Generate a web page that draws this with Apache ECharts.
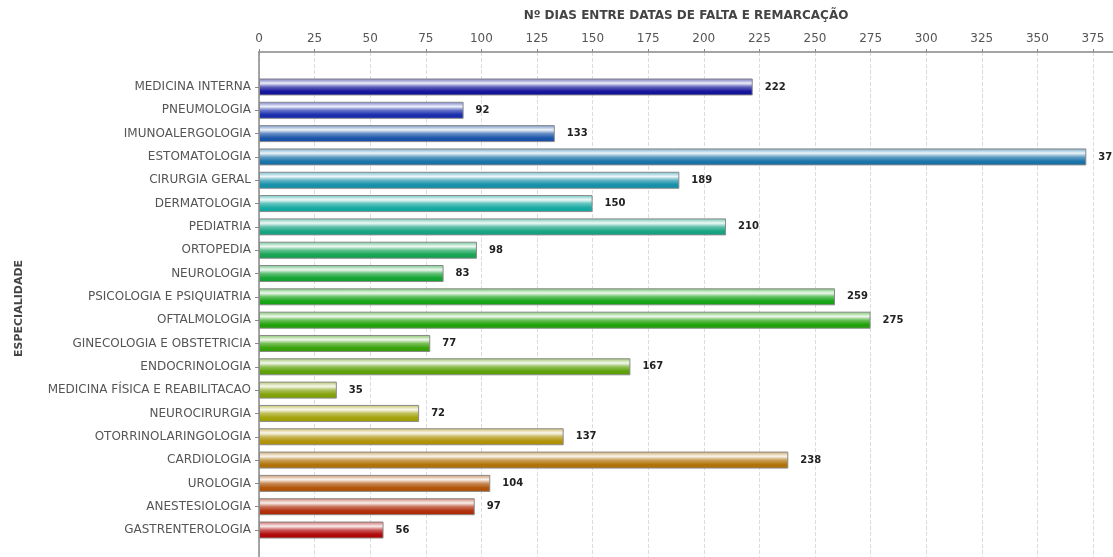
<!DOCTYPE html>
<html>
<head>
<meta charset="utf-8">
<script src="https://cdn.jsdelivr.net/npm/echarts@6/dist/echarts.min.js"></script>
<style>html,body{margin:0;padding:0;background:#fff;overflow:hidden}#c{width:1113px;height:572px}</style>
</head>
<body>
<div id="c"></div>
<script>
const categories = ['MEDICINA INTERNA','PNEUMOLOGIA','IMUNOALERGOLOGIA','ESTOMATOLOGIA','CIRURGIA GERAL','DERMATOLOGIA','PEDIATRIA','ORTOPEDIA','NEUROLOGIA','PSICOLOGIA E PSIQUIATRIA','OFTALMOLOGIA','GINECOLOGIA E OBSTETRICIA','ENDOCRINOLOGIA','MEDICINA FÍSICA E REABILITACAO','NEUROCIRURGIA','OTORRINOLARINGOLOGIA','CARDIOLOGIA','UROLOGIA','ANESTESIOLOGIA','GASTRENTEROLOGIA'];
const values = [222,92,133,372,189,150,210,98,83,259,275,77,167,35,72,137,238,104,97,56];
const barColors = ['#0c0c98','#1226aa','#124ea6','#126ea6','#0e8ca6','#0ea69e','#0ea07e','#0ea04e','#0ea02e','#0ea00e','#1a9e00','#329e00','#589e00','#7e9e00','#9e9e00','#ae8e00','#ae6e00','#ae4e00','#ae2600','#ae0000'];
const xTitle = 'Nº DIAS ENTRE DATAS DE FALTA E REMARCAÇÃO';
const yTitle = 'ESPECIALIDADE';

function mix(hex, t){
  const r=parseInt(hex.slice(1,3),16),g=parseInt(hex.slice(3,5),16),b=parseInt(hex.slice(5,7),16);
  const f=v=>Math.round(v+(255-v)*t);
  return 'rgb('+f(r)+','+f(g)+','+f(b)+')';
}
function grad(c){
  return new echarts.graphic.LinearGradient(0,0,0,1,[
    {offset:0,color:mix(c,0.4)},
    {offset:0.28,color:mix(c,0.93)},
    {offset:0.5,color:mix(c,0.35)},
    {offset:0.75,color:mix(c,0.05)},
    {offset:1,color:c}
  ]);
}
const yCats = [''].concat(categories.slice().reverse()).concat(['']);
const revVals = values.slice().reverse();
const revCols = barColors.slice().reverse();
const data = [null].concat(revVals.map((v,i)=>({value:v,itemStyle:{color:grad(revCols[i])}}))).concat([null]);

const chart = echarts.init(document.getElementById('c'),null,{renderer:'canvas'});
chart.setOption({
  animation:false,
  textStyle:{fontFamily:'DejaVu Sans'},
  grid:{left:259,right:0,top:52,height:513,containLabel:false},
  xAxis:{
    type:'value',position:'top',min:0,max:384,interval:25,
    name:xTitle,nameLocation:'middle',nameGap:30,
    nameTextStyle:{fontWeight:'bold',fontSize:12,color:'#444'},
    axisLine:{show:true,lineStyle:{color:'#888',width:1.5}},
    axisTick:{show:true,length:3,lineStyle:{color:'#888'}},
    axisLabel:{fontSize:12,color:'#555',margin:7,showMaxLabel:false},
    splitLine:{show:true,lineStyle:{color:'#dcdcdc',type:'dashed'}}
  },
  yAxis:{
    type:'category',data:yCats,
    name:yTitle,nameLocation:'middle',nameGap:234,
    nameTextStyle:{fontWeight:'bold',fontSize:11,color:'#444'},
    axisLine:{show:true,lineStyle:{color:'#888',width:1.5}},
    axisTick:{show:true,length:4,alignWithLabel:true,interval:(i,v)=>v!=='',lineStyle:{color:'#888'}},
    axisLabel:{fontSize:12,color:'#555',margin:8},
    splitLine:{show:false}
  },
  series:[{
    type:'bar',data:data,barWidth:17,
    itemStyle:{borderColor:'#8a8a8a',borderWidth:1},
    label:{show:true,position:'right',distance:12,fontSize:10,color:'#222',fontWeight:'bold'}
  }]
});
</script>
</body>
</html>
